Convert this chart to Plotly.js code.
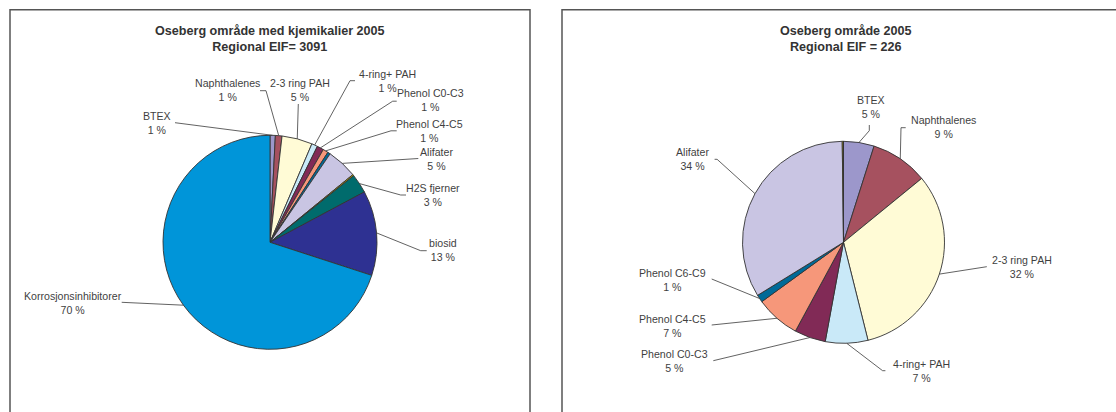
<!DOCTYPE html>
<html>
<head>
<meta charset="utf-8">
<script src="https://cdn.plot.ly/plotly-3.0.1.min.js"></script>
<style>
  html, body { margin: 0; padding: 0; background: #ffffff; }
  #chart { width: 1116px; height: 412px; }
</style>
</head>
<body>
<div id="chart"></div>
<script>
// Contributions to the regional EIF per component group (percent of total)
const categories = [
  'BTEX', 'Naphthalenes', '2-3 ring PAH', '4-ring+ PAH',
  'Phenol C0-C3', 'Phenol C4-C5', 'Phenol C6-C9', 'Alifater',
  'Andre', 'H2S fjerner', 'biosid', 'Korrosjonsinhibitorer'
];
const shareWithChemicals = [0.8, 1.0, 4.6, 0.9, 1.0, 0.8, 0.4, 4.6, 0.2, 2.9, 12.8, 70.0];
const shareWithoutChemicals = [4.9, 9.2, 32.0, 6.8, 5.0, 7.1, 1.2, 33.6, 0.2, 0, 0, 0];

const titleWithChemicals = ['Oseberg område med kjemikalier 2005', 'Regional EIF= 3091'];
const titleWithoutChemicals = ['Oseberg område 2005', 'Regional EIF = 226'];

// Slice fill colours, one per category
const sliceColors = [
  '#9c97cb', '#a6515f', '#fffbd6', '#c9e9f8',
  '#812a56', '#f6977a', '#006a98', '#c9c5e3',
  '#c2a800', '#006b6c', '#2e3192', '#0095d9'
];

const W = 1116, H = 412;
const FONT = 'Liberation Sans, Arial, Helvetica, sans-serif';
const px = x => x / W;
const py = y => 1 - y / H;

// Panel geometry (pixels) and label placement for each panel
const panels = [
  {
    values: shareWithChemicals,
    title: titleWithChemicals,
    titleX: 269.5, titleY: 39.2,
    cx: 270, cy: 242.3, r: 107,
    frame: 'M 10,420 L 10,9.7 L 530,9.7 L 530,420',
    labels: {
      0:  { x: 157,   y: 122.8, path: [[175, 122.7]] },
      1:  { x: 227,   y: 90.3,  path: [[260, 90.7], [266, 90.7]] },
      2:  { x: 299.5, y: 90.3,  path: [[298.3, 104]] },
      3:  { x: 387,   y: 80.7,  path: [[355, 80.7], [350, 80.7]] },
      4:  { x: 430.5, y: 100.2, path: [[396.7, 101.2], [392.7, 101.2]] },
      5:  { x: 430,   y: 130.8, path: [[396.7, 130.8], [391, 130.8]] },
      7:  { x: 436,   y: 158.5, path: [[418.3, 158.5]] },
      9:  { x: 433.3, y: 195,   path: [[406, 195], [400.7, 195]] },
      10: { x: 442.7, y: 249.7, path: [[426.7, 250.7], [420.7, 250.7]] },
      11: { x: 73,    y: 302.5, path: [[121.7, 302.3]] }
    }
  },
  {
    values: shareWithoutChemicals,
    title: titleWithoutChemicals,
    titleX: 846, titleY: 39.2,
    cx: 843.5, cy: 242.3, r: 101,
    frame: 'M 562,420 L 562,9.7 L 1120,9.7',
    labels: {
      0: { x: 870.7,  y: 107.5, path: [[869.3, 125], [869.3, 130.7]] },
      1: { x: 943.8,  y: 127.5, path: [[905.7, 127.7], [901, 127.7]] },
      2: { x: 1021.7, y: 267.2, path: [[986.8, 266.7]] },
      3: { x: 921.7,  y: 371.2, path: [[885.4, 370.7], [882.6, 370.7]] },
      4: { x: 674.3,  y: 360.5, path: [[713.3, 360.7]] },
      5: { x: 672.7,  y: 325.8, path: [[711.7, 325]] },
      6: { x: 672.7,  y: 279.8, path: [[711.7, 279]] },
      7: { x: 692.5,  y: 159.2, path: [[714.6, 159.3], [717.1, 159.3]] }
    }
  }
];

const traces = [];
const shapes = [];
const annotations = [];

panels.forEach(p => {
  traces.push({
    type: 'pie',
    labels: categories,
    values: p.values,
    marker: { colors: sliceColors, line: { color: '#333333', width: 0.9 } },
    sort: false,
    direction: 'clockwise',
    rotation: 0,
    textinfo: 'none',
    hoverinfo: 'label+percent',
    showlegend: false,
    domain: {
      x: [px(p.cx - p.r), px(p.cx + p.r)],
      y: [py(p.cy + p.r), py(p.cy - p.r)]
    }
  });

  // Chart frame
  const framePath = p.frame.replace(/(-?[\d.]+),(-?[\d.]+)/g,
    (m, a, b) => px(+a) + ',' + py(+b));
  shapes.push({
    type: 'path', xref: 'paper', yref: 'paper', path: framePath,
    line: { color: '#555555', width: 1.5 }
  });

  // Title
  annotations.push({
    xref: 'paper', yref: 'paper', x: px(p.titleX), y: py(p.titleY),
    xanchor: 'center', yanchor: 'middle', showarrow: false, align: 'center',
    text: '<b>' + p.title[0] + '</b><br><b>' + p.title[1] + '</b>',
    font: { family: FONT, size: 12.6, color: '#333333' }
  });

  // Data labels with leader lines to the middle of each slice's arc
  const total = p.values.reduce((a, b) => a + b, 0);
  let cum = 0;
  p.values.forEach((v, i) => {
    const mid = (cum + v / 2) / total * 2 * Math.PI;
    cum += v;
    const lab = p.labels[i];
    if (!lab) return;
    const ex = p.cx + p.r * Math.sin(mid);
    const ey = p.cy - p.r * Math.cos(mid);
    const pts = lab.path.concat([[ex, ey]]);
    const d = pts.map((q, k) => (k ? 'L ' : 'M ') + px(q[0]) + ',' + py(q[1])).join(' ');
    shapes.push({
      type: 'path', xref: 'paper', yref: 'paper', path: d,
      line: { color: '#3a3a3a', width: 0.8 }
    });
    const pct = Math.round(v / total * 100);
    annotations.push({
      xref: 'paper', yref: 'paper', x: px(lab.x), y: py(lab.y),
      xanchor: 'center', yanchor: 'middle', showarrow: false, align: 'center',
      text: categories[i] + '<br>' + pct + ' %',
      font: { family: FONT, size: 10.6, color: '#3f3f3f' }
    });
  });
});

const layout = {
  width: W, height: H,
  margin: { l: 0, r: 0, t: 0, b: 0 },
  paper_bgcolor: '#ffffff',
  plot_bgcolor: '#ffffff',
  showlegend: false,
  shapes: shapes,
  annotations: annotations
};

Plotly.newPlot('chart', traces, layout, { displayModeBar: false, staticPlot: true });
</script>
</body>
</html>
